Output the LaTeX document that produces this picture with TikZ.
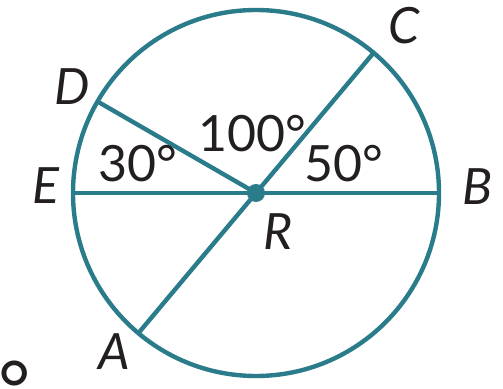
\documentclass[tikz,border=0pt]{standalone}
\usepackage{fontspec}
\usetikzlibrary{calc}
\setmainfont{Lato}
\definecolor{teal1}{HTML}{2A7C8A}
\definecolor{ink}{HTML}{231F20}
\begin{document}
\begin{tikzpicture}[x=1pt,y=1pt,
  seg/.style={draw=teal1,line width=4.4pt},
  lbl/.style={inner sep=0pt,text=ink,font=\fontsize{50}{50}\selectfont\itshape},
  num/.style={inner sep=0pt,text=ink,font=\fontsize{50}{50}\selectfont}]
\useasboundingbox (0,0) rectangle (503,388);
\coordinate (R) at (256,195);
\draw[seg] (R) circle[radius=183];
\coordinate (B) at ($(R)+(0:183)$);
\coordinate (C) at ($(R)+(50:183)$);
\coordinate (D) at ($(R)+(150:183)$);
\coordinate (E) at ($(R)+(180:183)$);
\coordinate (A) at ($(R)+(230:183)$);
\draw[seg] (E) -- (B);
\draw[seg] (A) -- (C);
\draw[seg] (R) -- (D);
\fill[teal1] (R) circle[radius=9];
\node[lbl] (lC) at (404,362) {C};
\node[lbl] (lB) at (478,201) {B};
\node[lbl] (lD) at (72,301) {D};
\node[lbl] (lE) at (46,202) {E};
\node[lbl] (lR) at (278,156) {R};
\node[lbl] (lA) at (114,36) {A};
\node[num] (n30) at (138,224) {30°};
\node[num] (n100) at (252,254) {100°};
\node[num] (n50) at (344,224) {50°};
\node[inner sep=0pt,text=ink,font=\fontsize{78}{78}\selectfont] (deg) at (15,14) {\smash{\raisebox{-43pt}{°}}};
\end{tikzpicture}
\end{document}
